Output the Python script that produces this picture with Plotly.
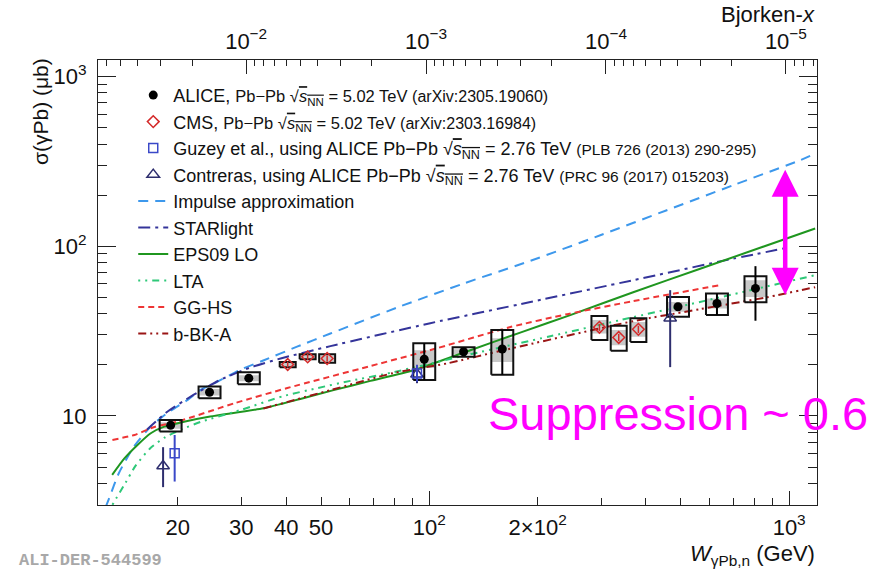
import numpy as np
import plotly.graph_objects as go

# ---------------- measured cross sections ----------------
M_JPSI = 3.0969  # GeV, used to convert W into Bjorken-x on the top axis

# ALICE, Pb-Pb 5.02 TeV
alice_w = [19.1, 24.5, 31.5, 96.8, 124.5, 159.5, 491, 630, 806]
alice_sigma = [8.82, 13.8, 16.7, 21.6, 23.9, 24.8, 44.0, 46.0, 56.4]
alice_stat_up = [0.3, 0.5, 0.6, 5.2, 0.8, 7.3, 2.0, 6.7, 19.9]
alice_stat_dn = [0.3, 0.5, 0.6, 5.3, 0.8, 7.3, 2.0, 6.7, 20.0]
alice_box_lo = [8.09, 12.7, 15.4, 16.3, 22.3, 17.5, 38.4, 39.3, 46.7]
alice_box_hi = [9.47, 14.9, 18.1, 26.8, 25.4, 32.1, 50.3, 52.7, 66.6]
alice_fill_lo = [8.4, 13.2, 16.0, 19.2, 23.0, 20.8, 41.1, 43.0, 50.3]
alice_fill_hi = [9.2, 14.4, 17.4, 24.4, 24.7, 28.7, 47.0, 49.2, 63.1]

# CMS, Pb-Pb 5.02 TeV
cms_w = [40.4, 45.9, 52.0, 297, 336, 381]
cms_sigma = [20.1, 22.3, 21.8, 33.3, 29.0, 32.4]
cms_err = [0.8, 0.9, 0.9, 1.6, 1.4, 1.6]
cms_box_lo = [19.4, 21.6, 20.6, 28.0, 24.2, 27.3]
cms_box_hi = [20.8, 23.1, 23.1, 38.8, 34.0, 37.6]
cms_fill_lo = [19.6, 21.8, 21.0, 30.6, 26.1, 29.3]
cms_fill_hi = [20.6, 22.9, 22.7, 36.7, 32.1, 35.8]

# Guzey et al. (ALICE 2.76 TeV)
guzey_w = [19.6, 92.4]
guzey_sigma = [6.04, 17.8]
guzey_up = [1.69, 2.2]
guzey_dn = [1.93, 1.9]

# Contreras (ALICE 2.76 TeV)
contreras_w = [18.2, 92.4, 467]
contreras_sigma = [5.08, 17.6, 37.7]
contreras_up = [1.47, 2.4, 17.4]
contreras_dn = [1.27, 2.0, 18.3]

# ---------------- model curves ----------------
ia_w = [12.6, 12.86, 13.71, 15.09, 16.79, 18.68, 21.24, 23.1, 25.7, 29.8, 34.7, 42.9,
        53.1, 81.3, 124.5, 190.9, 298.6, 457, 700, 1073, 1180]
ia_sigma = [2.9, 3.24, 4.60, 6.59, 8.65, 10.4, 12.4, 14.2, 15.9, 18.7, 21.3, 25.6,
            30.6, 43.5, 60.3, 82.0, 116, 163, 229, 321, 351]

starlight_w = [16.4, 18.7, 22.1, 26.2, 31.8, 38.6, 53.1, 100.6, 190.9, 368.6, 700, 975]
starlight_sigma = [8.3, 10.6, 13.3, 16.3, 19.3, 21.8, 25.8, 35.2, 46.9, 63.1, 84.5, 97.3]

eps09_w = [13.14, 14.21, 15.45, 16.82, 18.33, 20.8, 24.6, 34.6, 43.8, 54.2, 68.6, 90.4,
           130, 178.9, 246.4, 368.6, 565.9, 1181]
eps09_sigma = [4.50, 5.62, 6.75, 7.91, 8.65, 9.26, 9.93, 11.1, 12.6, 14.2, 16.1, 18.6,
               24.4, 31.0, 39.3, 53.6, 73.7, 127.1]

lta_w = [13.16, 14.3, 15.25, 16.79, 18.48, 20.6, 23.1, 29.9, 39.3, 48.9, 60.3, 79.4,
         130, 216.8, 339.3, 627, 1181]
lta_sigma = [3.0, 4.03, 5.08, 6.48, 7.52, 8.38, 9.22, 10.85, 13.1, 14.6, 16.1, 18.1,
             23.1, 29.5, 36.7, 49.4, 67.5]

gghs_w = [13.16, 15.16, 17.22, 19.95, 28.9, 40.3, 68.6, 105.2, 167.9, 241.7, 368.6, 643.2]
gghs_sigma = [7.23, 7.73, 8.62, 9.26, 11.93, 14.61, 19.69, 25.1, 33.4, 39.8, 47.5, 59.0]

bbka_w = [34.6, 53.1, 79.4, 112, 160.8, 368.6, 565.9, 868.8, 1181]
bbka_sigma = [11.07, 14.2, 17.9, 20.4, 24.4, 36.2, 42.6, 50.1, 57.4]

# ---------------- axes ----------------
W_MIN, W_MAX = 12.0, 1195.0
SIG_MIN, SIG_MAX = 2.99, 1250.0

x_major = [20, 30, 40, 50, 100, 200, 1000]
x_major_text = ["20", "30", "40", "50", "10<sup>2</sup>", "2×10<sup>2</sup>", "10<sup>3</sup>"]
x_minor = [60, 70, 80, 90, 300, 400, 500, 600, 700, 800, 900]
x_long = [100, 1000]

y_major = [10, 100, 1000]
y_major_text = ["10", "10<sup>2</sup>", "10<sup>3</sup>"]
y_minor = [3, 4, 5, 6, 7, 8, 9, 20, 30, 40, 50, 60, 70, 80, 90,
           200, 300, 400, 500, 600, 700, 800, 900]

bj_major = [1e-2, 1e-3, 1e-4, 1e-5]
bj_major_text = ["10<sup>−2</sup>", "10<sup>−3</sup>", "10<sup>−4</sup>", "10<sup>−5</sup>"]
bj_minor = [m * 10.0 ** e for e in (-2, -3, -4, -5, -6) for m in range(2, 10)]


def w_of_x(xb):
    return M_JPSI / np.sqrt(np.asarray(xb, dtype=float))


def box_path(ws, lo, hi, f):
    xs, ys = [], []
    for w, a, b in zip(ws, lo, hi):
        xs += [w / f, w * f, w * f, w / f, w / f, None]
        ys += [a, a, b, b, a, None]
    return xs, ys


ALICE_BOX = 1.0728
CMS_BOX = 1.0525
GREY = "#c8c8c8"
FONT = "Liberation Sans"
TXT = "#111111"

fig = go.Figure()

# systematic boxes (filled part)
for ws, lo, hi, f in [(alice_w, alice_fill_lo, alice_fill_hi, ALICE_BOX),
                      (cms_w, cms_fill_lo, cms_fill_hi, CMS_BOX)]:
    bx, by = box_path(ws, lo, hi, f)
    fig.add_trace(go.Scatter(x=bx, y=by, mode="lines", fill="toself", fillcolor=GREY,
                             line=dict(width=0, color=GREY), showlegend=False,
                             hoverinfo="skip"))

# model curves
curves = [
    ("Impulse approximation", ia_w, ia_sigma, "#3d98ec", "10px,7px", 5),
    ("STARlight", starlight_w, starlight_sigma, "#34349a", "12px,5px,3px,5px", 6),
    ("EPS09 LO", eps09_w, eps09_sigma, "#1f961f", "solid", 7),
    ("LTA", lta_w, lta_sigma, "#2ec878", "2px,5px,2px,5px,7px,5px", 8),
    ("GG-HS", gghs_w, gghs_sigma, "#ee3535", "6px,4px", 9),
    ("b-BK-A", bbka_w, bbka_sigma, "#9a1515", "8px,4px,2px,4px,2px,4px", 10),
]
for name, xs, ys, col, dash, rank in curves:
    fig.add_trace(go.Scatter(x=xs, y=ys, mode="lines", name=name,
                             line=dict(color=col, width=2, dash=dash, shape="spline",
                                       smoothing=0.6),
                             legendgroup=name, legendrank=rank, hoverinfo="skip"))

# systematic boxes (outline)
for ws, lo, hi, f in [(alice_w, alice_box_lo, alice_box_hi, ALICE_BOX),
                      (cms_w, cms_box_lo, cms_box_hi, CMS_BOX)]:
    bx, by = box_path(ws, lo, hi, f)
    fig.add_trace(go.Scatter(x=bx, y=by, mode="lines", line=dict(width=2, color="#111111"),
                             showlegend=False, hoverinfo="skip"))


def small(t, size):
    return "<span style='font-size:%gpx'>%s</span>" % (size, t)


sqrt_s = "√<span style='text-decoration:overline'><i>s</i><sub>NN</sub></span>"
names = {
    "alice": "ALICE, " + small("Pb−Pb ", 16.5) + small(sqrt_s, 16.5)
             + small(" = 5.02 TeV ", 16.5) + small("(arXiv:2305.19060)", 16),
    "cms": "CMS, " + small("Pb−Pb ", 16.5) + small(sqrt_s, 16.5)
           + small(" = 5.02 TeV ", 16.5) + small("(arXiv:2303.16984)", 16),
    "guzey": "Guzey et al., using ALICE Pb−Pb " + sqrt_s + " = 2.76 TeV "
             + small("(PLB 726 (2013) 290-295)", 15.5),
    "contreras": "Contreras, using ALICE Pb−Pb " + sqrt_s + " = 2.76 TeV "
                 + small("(PRC 96 (2017) 015203)", 15.5),
}

fig.add_trace(go.Scatter(
    x=contreras_w, y=contreras_sigma, mode="markers", name=names["contreras"],
    marker=dict(symbol="triangle-up-open", size=11, color="#2e2e6e", line=dict(width=1.5)),
    error_y=dict(type="data", array=contreras_up, arrayminus=contreras_dn,
                 color="#2e2e6e", thickness=2, width=0),
    legendgroup="contreras", legendrank=4, hoverinfo="skip"))
fig.add_trace(go.Scatter(
    x=guzey_w, y=guzey_sigma, mode="markers", name=names["guzey"],
    marker=dict(symbol="square-open", size=9, color="#3a48c8", line=dict(width=1.5)),
    error_y=dict(type="data", array=guzey_up, arrayminus=guzey_dn,
                 color="#3a48c8", thickness=2, width=0),
    legendgroup="guzey", legendrank=3, hoverinfo="skip"))
fig.add_trace(go.Scatter(
    x=cms_w, y=cms_sigma, mode="markers", name=names["cms"],
    marker=dict(symbol="diamond-open", size=9, color="#d42a2a", line=dict(width=1.5)),
    error_y=dict(type="data", array=cms_err, color="#d42a2a", thickness=1.5, width=0),
    legendgroup="cms", legendrank=2, hoverinfo="skip"))
fig.add_trace(go.Scatter(
    x=alice_w, y=alice_sigma, mode="markers", name=names["alice"],
    marker=dict(symbol="circle", size=9, color="#000000"),
    error_y=dict(type="data", array=alice_stat_up, arrayminus=alice_stat_dn,
                 color="#000000", thickness=2, width=0),
    legendgroup="alice", legendrank=1, hoverinfo="skip"))

# helper traces that carry the secondary axes (top Bjorken-x axis and long ticks)
for ax in ("x2", "x3"):
    fig.add_trace(go.Scatter(x=[W_MIN, W_MAX], y=[SIG_MIN, SIG_MAX], xaxis=ax, mode="lines",
                             line=dict(width=0), opacity=0, showlegend=False,
                             hoverinfo="skip"))

axis_font = dict(family=FONT, size=22, color=TXT)
xrange = [np.log10(W_MIN), np.log10(W_MAX)]

fig.update_layout(
    width=885, height=570,
    margin=dict(l=98, r=68, t=60, b=65),
    paper_bgcolor="white", plot_bgcolor="white",
    font=dict(family=FONT, color=TXT),
    showlegend=True,
    legend=dict(x=0.049, y=0.962, xanchor="left", yanchor="top",
                bgcolor="rgba(0,0,0,0)", borderwidth=0,
                font=dict(family=FONT, size=18, color=TXT),
                traceorder="grouped", tracegroupgap=0.1, itemwidth=30),
    xaxis=dict(type="log", range=xrange, showgrid=False, zeroline=False,
               showline=True, mirror=True, linecolor="#222222", linewidth=1.2,
               ticks="inside", ticklen=8, tickwidth=1.2, tickcolor="#222222",
               tickvals=x_major, ticktext=x_major_text, tickfont=axis_font,
               ticklabelstandoff=2,
               minor=dict(tickvals=x_minor, ticks="inside", ticklen=7,
                          tickwidth=1.2, tickcolor="#222222", showgrid=False)),
    xaxis2=dict(type="log", range=xrange, overlaying="x", side="top", anchor="y",
                showgrid=False, zeroline=False, showline=False,
                ticks="inside", ticklen=14, tickwidth=1.2, tickcolor="#222222",
                tickvals=list(w_of_x(bj_major)), ticktext=bj_major_text,
                tickfont=axis_font, ticklabelstandoff=6,
                minor=dict(tickvals=list(w_of_x(bj_minor)), ticks="inside", ticklen=6,
                           tickwidth=1.2, tickcolor="#222222", showgrid=False)),
    xaxis3=dict(type="log", range=xrange, overlaying="x", side="bottom", anchor="y",
                showgrid=False, zeroline=False, showline=False,
                ticks="inside", ticklen=14, tickwidth=1.2, tickcolor="#222222",
                tickvals=x_long, showticklabels=False),
    yaxis=dict(type="log", range=[np.log10(SIG_MIN), np.log10(SIG_MAX)],
               showgrid=False, zeroline=False,
               showline=True, mirror="ticks", linecolor="#222222", linewidth=1.2,
               ticks="inside", ticklen=18, tickwidth=1.2, tickcolor="#222222",
               tickvals=y_major, ticktext=y_major_text, tickfont=axis_font,
               ticklabelstandoff=6,
               minor=dict(tickvals=y_minor, ticks="inside", ticklen=9,
                          tickwidth=1.2, tickcolor="#222222", showgrid=False)),
)

# axis titles
fig.add_annotation(text="<i>W</i><sub>γPb,n</sub> (GeV)", xref="paper", yref="paper",
                   x=1.0, y=-0.112, xanchor="right", yanchor="middle", showarrow=False,
                   font=dict(family=FONT, size=22, color=TXT))
fig.add_annotation(text="σ(γPb) (μb)", xref="paper", yref="paper", textangle=-90,
                   x=-0.081, y=0.885, xanchor="center", yanchor="middle", showarrow=False,
                   font=dict(family=FONT, size=21, color=TXT))
fig.add_annotation(text="Bjorken-<i>x</i>", xref="paper", yref="paper",
                   x=1.0, y=1.103, xanchor="right", yanchor="middle", showarrow=False,
                   font=dict(family=FONT, size=22, color=TXT))

# suppression arrow between impulse approximation and data at high W
ARROW_W = 975
ARROW_TOP, ARROW_BOTTOM = 282, 50.8
fig.add_annotation(x=np.log10(ARROW_W), y=np.log10(ARROW_TOP), xref="x", yref="y",
                   ax=np.log10(ARROW_W), ay=np.log10(ARROW_BOTTOM), axref="x", ayref="y",
                   text="", showarrow=True, arrowside="end+start",
                   arrowhead=2, startarrowhead=2, arrowsize=1.2, startarrowsize=1.2,
                   arrowwidth=4.5, arrowcolor="#ff00ff", standoff=0, startstandoff=0)
fig.add_annotation(text="Suppression ~ 0.6", xref="paper", yref="paper",
                   x=0.807, y=0.2045, xanchor="center", yanchor="middle", showarrow=False,
                   font=dict(family=FONT, size=47, color="#ff00ff"))

fig.add_annotation(text="<b>ALI-DER-544599</b>", xref="paper", yref="paper",
                   x=-0.1127, y=-0.124, xanchor="left", yanchor="middle", showarrow=False,
                   font=dict(family="Liberation Mono", size=17, color="#a8a8a8"))

fig.write_html("out.html")
